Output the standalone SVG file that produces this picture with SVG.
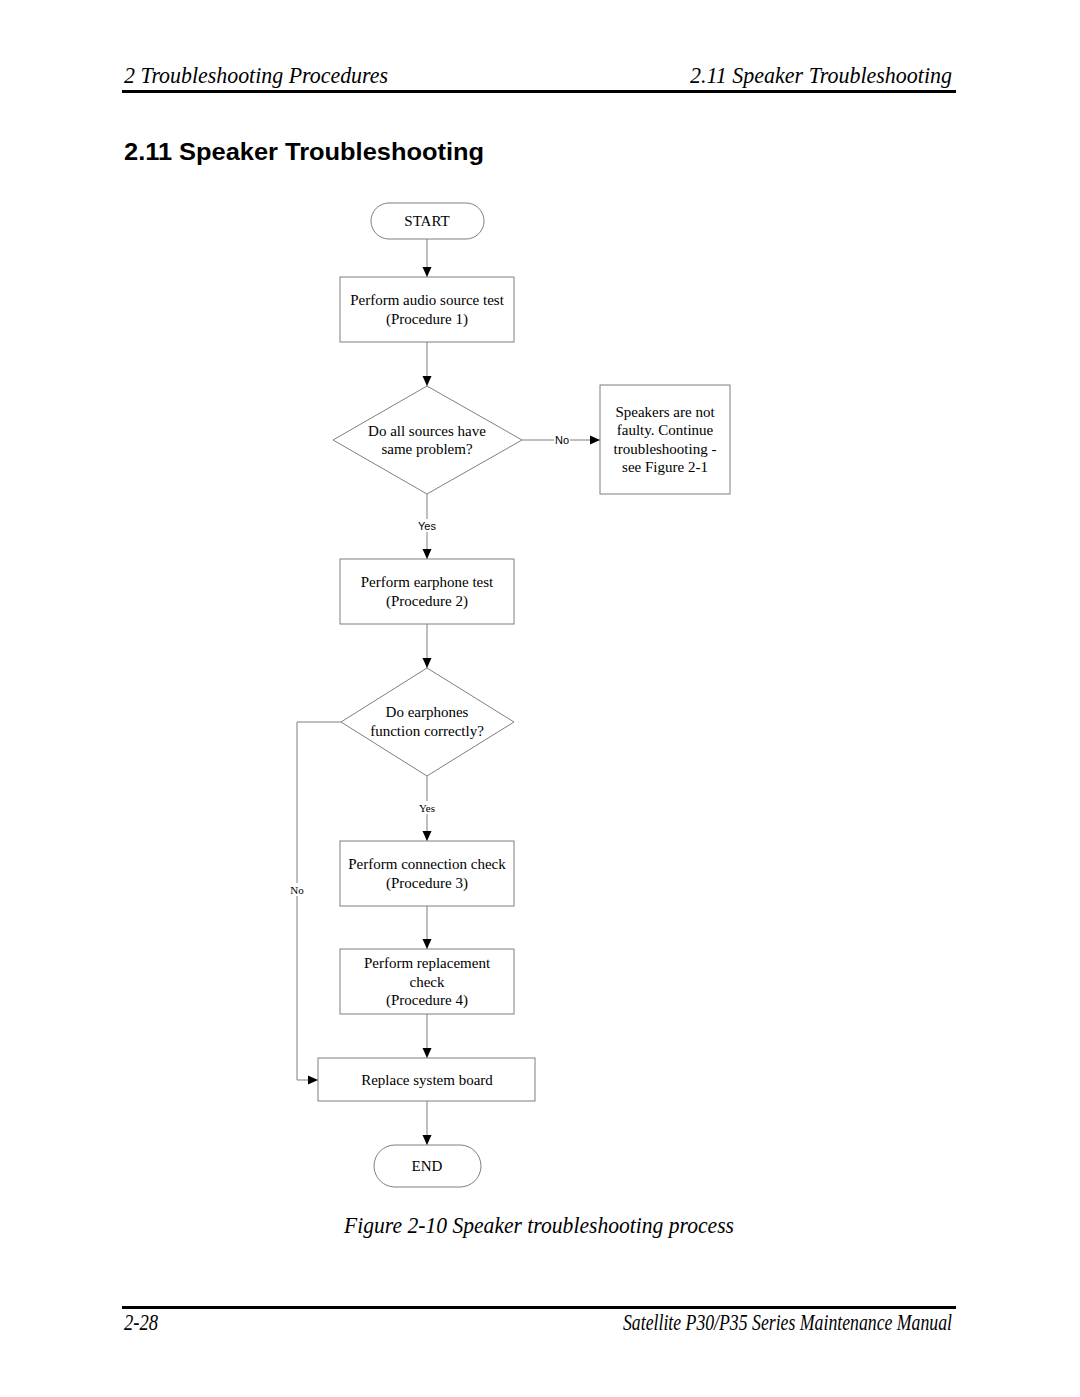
<svg xmlns="http://www.w3.org/2000/svg" width="1080" height="1397" viewBox="0 0 1080 1397">
<style>
.hdr{font-family:"Liberation Serif",serif;font-style:italic;font-size:23px;fill:#000}
.title{font-family:"Liberation Sans",Arial,sans-serif;font-weight:bold;font-size:24px;fill:#000}
.node{fill:#fff;stroke:#7f7f7f;stroke-width:1}
.t{font-family:"Liberation Serif",serif;font-size:15px;fill:#000;text-anchor:middle}
.ls{font-family:"Liberation Sans",sans-serif;font-size:11px;fill:#000;text-anchor:middle}
.lt{font-family:"Liberation Serif",serif;font-size:11px;fill:#000;text-anchor:middle}
.c{fill:none;stroke:#7f7f7f;stroke-width:1}
</style>
<defs>
<marker id="ah" viewBox="0 0 10 10" refX="10" refY="5" markerWidth="10" markerHeight="10" markerUnits="userSpaceOnUse" orient="auto">
<path d="M0,0.5 L10,5 L0,9.5 z" fill="#000"/>
</marker>
</defs>
<rect width="1080" height="1397" fill="#fff"/>
<g id="header">
<text class="hdr" x="124" y="83" textLength="264" lengthAdjust="spacingAndGlyphs">2  Troubleshooting Procedures</text>
<text class="hdr" x="690" y="83" textLength="262" lengthAdjust="spacingAndGlyphs">2.11  Speaker Troubleshooting</text>
<rect x="122" y="90" width="834" height="3" fill="#000"/>
<text class="title" x="124" y="160" textLength="360" lengthAdjust="spacingAndGlyphs">2.11  Speaker Troubleshooting</text>
</g>
<g id="connectors">
<line class="c" x1="427" y1="239" x2="427" y2="277" marker-end="url(#ah)"/>
<line class="c" x1="427" y1="342" x2="427" y2="386" marker-end="url(#ah)"/>
<line class="c" x1="522" y1="440" x2="600" y2="440" marker-end="url(#ah)"/>
<rect x="554" y="433" width="16" height="13" fill="#fff"/>
<text class="ls" x="562" y="444">No</text>
<line class="c" x1="427" y1="494" x2="427" y2="559" marker-end="url(#ah)"/>
<rect x="417" y="519" width="20" height="13" fill="#fff"/>
<text class="ls" x="427" y="530">Yes</text>
<line class="c" x1="427" y1="624" x2="427" y2="668" marker-end="url(#ah)"/>
<line class="c" x1="427" y1="776" x2="427" y2="841" marker-end="url(#ah)"/>
<rect x="416" y="801" width="22" height="13" fill="#fff"/>
<text class="lt" x="427" y="812">Yes</text>
<line class="c" x1="427" y1="906" x2="427" y2="949" marker-end="url(#ah)"/>
<line class="c" x1="427" y1="1014" x2="427" y2="1058" marker-end="url(#ah)"/>
<line class="c" x1="427" y1="1101" x2="427" y2="1145" marker-end="url(#ah)"/>
<polyline class="c" points="341,722 297,722 297,1080 318,1080" marker-end="url(#ah)"/>
<rect x="288" y="883" width="18" height="13" fill="#fff"/>
<text class="lt" x="297" y="894">No</text>
</g>
<g id="start">
<rect class="node" x="371" y="203" width="113" height="36" rx="18" ry="18"/>
<text class="t" x="427" y="226">START</text>
</g>
<g id="proc1">
<rect class="node" x="340" y="277" width="174" height="65"/>
<text class="t" x="427" y="305">Perform audio source test</text>
<text class="t" x="427" y="324">(Procedure 1)</text>
</g>
<g id="dec1">
<polygon class="node" points="427,386 522,440 427,494 333,440"/>
<text class="t" x="427" y="436">Do all sources have</text>
<text class="t" x="427" y="454">same problem?</text>
</g>
<g id="notfaulty">
<rect class="node" x="600" y="385" width="130" height="109"/>
<text class="t" x="665" y="417">Speakers are not</text>
<text class="t" x="665" y="435">faulty. Continue</text>
<text class="t" x="665" y="454">troubleshooting -</text>
<text class="t" x="665" y="472">see Figure 2-1</text>
</g>
<g id="proc2">
<rect class="node" x="340" y="559" width="174" height="65"/>
<text class="t" x="427" y="587">Perform earphone test</text>
<text class="t" x="427" y="606">(Procedure 2)</text>
</g>
<g id="dec2">
<polygon class="node" points="427,668 514,722 427,776 341,722"/>
<text class="t" x="427" y="717">Do earphones</text>
<text class="t" x="427" y="736">function correctly?</text>
</g>
<g id="proc3">
<rect class="node" x="340" y="841" width="174" height="65"/>
<text class="t" x="427" y="869">Perform connection check</text>
<text class="t" x="427" y="888">(Procedure 3)</text>
</g>
<g id="proc4">
<rect class="node" x="340" y="949" width="174" height="65"/>
<text class="t" x="427" y="968">Perform replacement</text>
<text class="t" x="427" y="987">check</text>
<text class="t" x="427" y="1005">(Procedure 4)</text>
</g>
<g id="replace">
<rect class="node" x="318" y="1058" width="217" height="43"/>
<text class="t" x="427" y="1085">Replace system board</text>
</g>
<g id="end">
<rect class="node" x="374" y="1145" width="107" height="42" rx="21" ry="21"/>
<text class="t" x="427" y="1171">END</text>
</g>
<g id="footer">
<text class="hdr" x="344" y="1233" font-size="22" textLength="390" lengthAdjust="spacingAndGlyphs">Figure 2-10  Speaker troubleshooting process</text>
<rect x="122" y="1306" width="834" height="3" fill="#000"/>
<text class="hdr" x="124" y="1330" font-size="21" textLength="34" lengthAdjust="spacingAndGlyphs">2-28</text>
<text class="hdr" x="623" y="1330" font-size="21" textLength="329" lengthAdjust="spacingAndGlyphs">Satellite P30/P35 Series Maintenance Manual</text>
</g>
</svg>
